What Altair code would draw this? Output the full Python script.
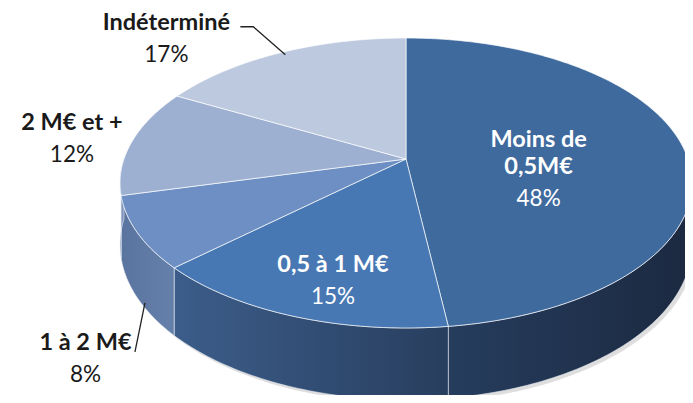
import numpy as np
import pandas as pd
import altair as alt

# ---------------- data ----------------
categories = ["Moins de 0,5M€", "0,5 à 1 M€", "1 à 2 M€", "2 M€ et +", "Indéterminé"]
values = [48, 15, 8, 12, 17]
name_lines = [["Moins de", "0,5M€"], ["0,5 à 1 M€"], ["1 à 2 M€"], ["2 M€ et +"], ["Indéterminé"]]

# ---------------- style ----------------
top_colors = ["#3F6A9E", "#4878B3", "#6D8FC3", "#9DB0D2", "#BDC9DF"]
wall_stops = {
    "Moins de 0,5M€": ["#263D5E", "#1B2940"],
    "0,5 à 1 M€": ["#3C5D8A", "#283E5E"],
    "1 à 2 M€": ["#5A74A0", "#6580AA"],
    "2 M€ et +": ["#8196BE", "#8196BE"],
}
inside = {"Moins de 0,5M€", "0,5 à 1 M€"}
# label placement: anchor = projected point (mid-angle, radius r) + (dx, dy)
label_layout = {
    "Moins de 0,5M€": (0.47, 1, -8),
    "0,5 à 1 M€": (0.683, 0, 12),
    "1 à 2 M€": (1.0, -52, 117),
    "2 M€ et +": (1.0, -60, -12),
    "Indéterminé": (1.0, -114, -23),
}
leader_layout = {
    "Indéterminé": [(5, 2), (-27, -26), (-40, -26)],
    "1 à 2 M€": [(7.5, 70), (-2.5, 119)],
}

# perspective geometry (pixels)
CX, CY, A, B, K, H = 406.0, 159.0, 282.0, 141.0, 0.1655, 60.0


def proj(theta_deg, r=1.0, down=0.0):
    t = np.radians(theta_deg)
    X = r * np.sin(t)
    Z = r * np.cos(t)
    w = 1 + K * Z
    return CX + A * X / w, CY - B * Z / w + down * H / w


total = float(sum(values))
ends = np.cumsum(values) / total * 360.0
starts = np.concatenate([[0.0], ends[:-1]])

top_rows, wall_rows, shadow_rows = [], [], []
for c, s, e in zip(categories, starts, ends):
    pts = [(CX, CY)]
    for th in np.linspace(s, e, max(int(e - s), 2) + 1):
        pts.append(proj(th))
    pts.append((CX, CY))
    for i, (x, y) in enumerate(pts):
        top_rows.append({"cat": c, "i": i, "x": x, "y": y})
    a, b = max(s, 90.0), min(e, 270.0)
    if b > a:
        ths = np.linspace(a, b, max(int(b - a), 2) + 1)
        poly = [proj(t) for t in ths] + [proj(t, 1.0, 1.0) for t in ths[::-1]]
        poly.append(poly[0])
        for i, (x, y) in enumerate(poly):
            wall_rows.append({"cat": c, "i": i, "x": x, "y": y})

ths = np.linspace(85, 275, 191)
spoly = [proj(t) for t in ths] + [proj(t, 1.0, 1.0) for t in ths[::-1]]
for i, (x, y) in enumerate(spoly):
    shadow_rows.append({"i": i, "x": x + 3, "y": y + 3})

top_df = pd.DataFrame(top_rows)
wall_df = pd.DataFrame(wall_rows)
shadow_df = pd.DataFrame(shadow_rows)

name_rows, pct_rows, leader_rows = [], [], []
for c, s, e, v, lines in zip(categories, starts, ends, values, name_lines):
    mid = (s + e) / 2
    r, dx, dy = label_layout[c]
    ax, ay = proj(mid, r)
    bx, by = ax + dx, ay + dy
    col = "white" if c in inside else "#1A1A1A"
    for j, ln in enumerate(lines):
        name_rows.append({"x": bx, "y": by + 27 * j, "t": ln, "col": col})
    pct_rows.append({"x": bx, "y": by + 27 * (len(lines) - 1) + 32, "t": f"{v}%", "col": col})
    if c in leader_layout:
        rx, ry = proj(mid)
        for j, (ox, oy) in enumerate(leader_layout[c]):
            leader_rows.append({"cat": c, "i": j, "x": rx + ox, "y": ry + oy})

name_df = pd.DataFrame(name_rows)
pct_df = pd.DataFrame(pct_rows)
leader_df = pd.DataFrame(leader_rows)

X = alt.X("x:Q", scale=alt.Scale(domain=[8, 685], nice=False, zero=False), axis=None)
Y = alt.Y("y:Q", scale=alt.Scale(domain=[8, 395], nice=False, zero=False, reverse=True), axis=None)

layers = []
layers.append(
    alt.Chart(shadow_df).mark_line(fill="#C8C8C8", fillOpacity=0.6, strokeOpacity=0)
    .encode(x=X, y=Y, order="i:Q")
)
for c in categories:
    if c in wall_stops and (wall_df["cat"] == c).any():
        st = wall_stops[c]
        grad = alt.Gradient(
            gradient="linear",
            stops=[alt.GradientStop(color=st[0], offset=0), alt.GradientStop(color=st[1], offset=1)],
            x1=0, x2=1, y1=0, y2=0,
        )
        layers.append(
            alt.Chart(wall_df[wall_df["cat"] == c]).mark_line(
                fill=grad, stroke="#E8EDF5", strokeWidth=0.8, strokeOpacity=0.7
            ).encode(x=X, y=Y, order="i:Q")
        )
for c, col in zip(categories, top_colors):
    layers.append(
        alt.Chart(top_df[top_df["cat"] == c]).mark_line(
            fill=col, stroke="#FFFFFF", strokeWidth=0.9, strokeOpacity=0.75
        ).encode(x=X, y=Y, order="i:Q")
    )
layers.append(
    alt.Chart(leader_df).mark_line(stroke="#222222", strokeWidth=1.3)
    .encode(x=X, y=Y, order="i:Q", detail="cat:N")
)
layers.append(
    alt.Chart(name_df).mark_text(font="Lato", fontSize=23.5, fontWeight="bold",
                                 align="center", baseline="alphabetic")
    .encode(x=X, y=Y, text="t:N", color=alt.Color("col:N", scale=None))
)
layers.append(
    alt.Chart(pct_df).mark_text(font="Lato", fontSize=22.5, align="center", baseline="alphabetic")
    .encode(x=X, y=Y, text="t:N", color=alt.Color("col:N", scale=None))
)

chart = (
    alt.layer(*layers)
    .properties(width=677, height=387, padding=0, autosize="none", background="white")
    .configure_view(stroke=None)
)
chart.save("out.html", embed_options={"renderer": "svg", "actions": False})
